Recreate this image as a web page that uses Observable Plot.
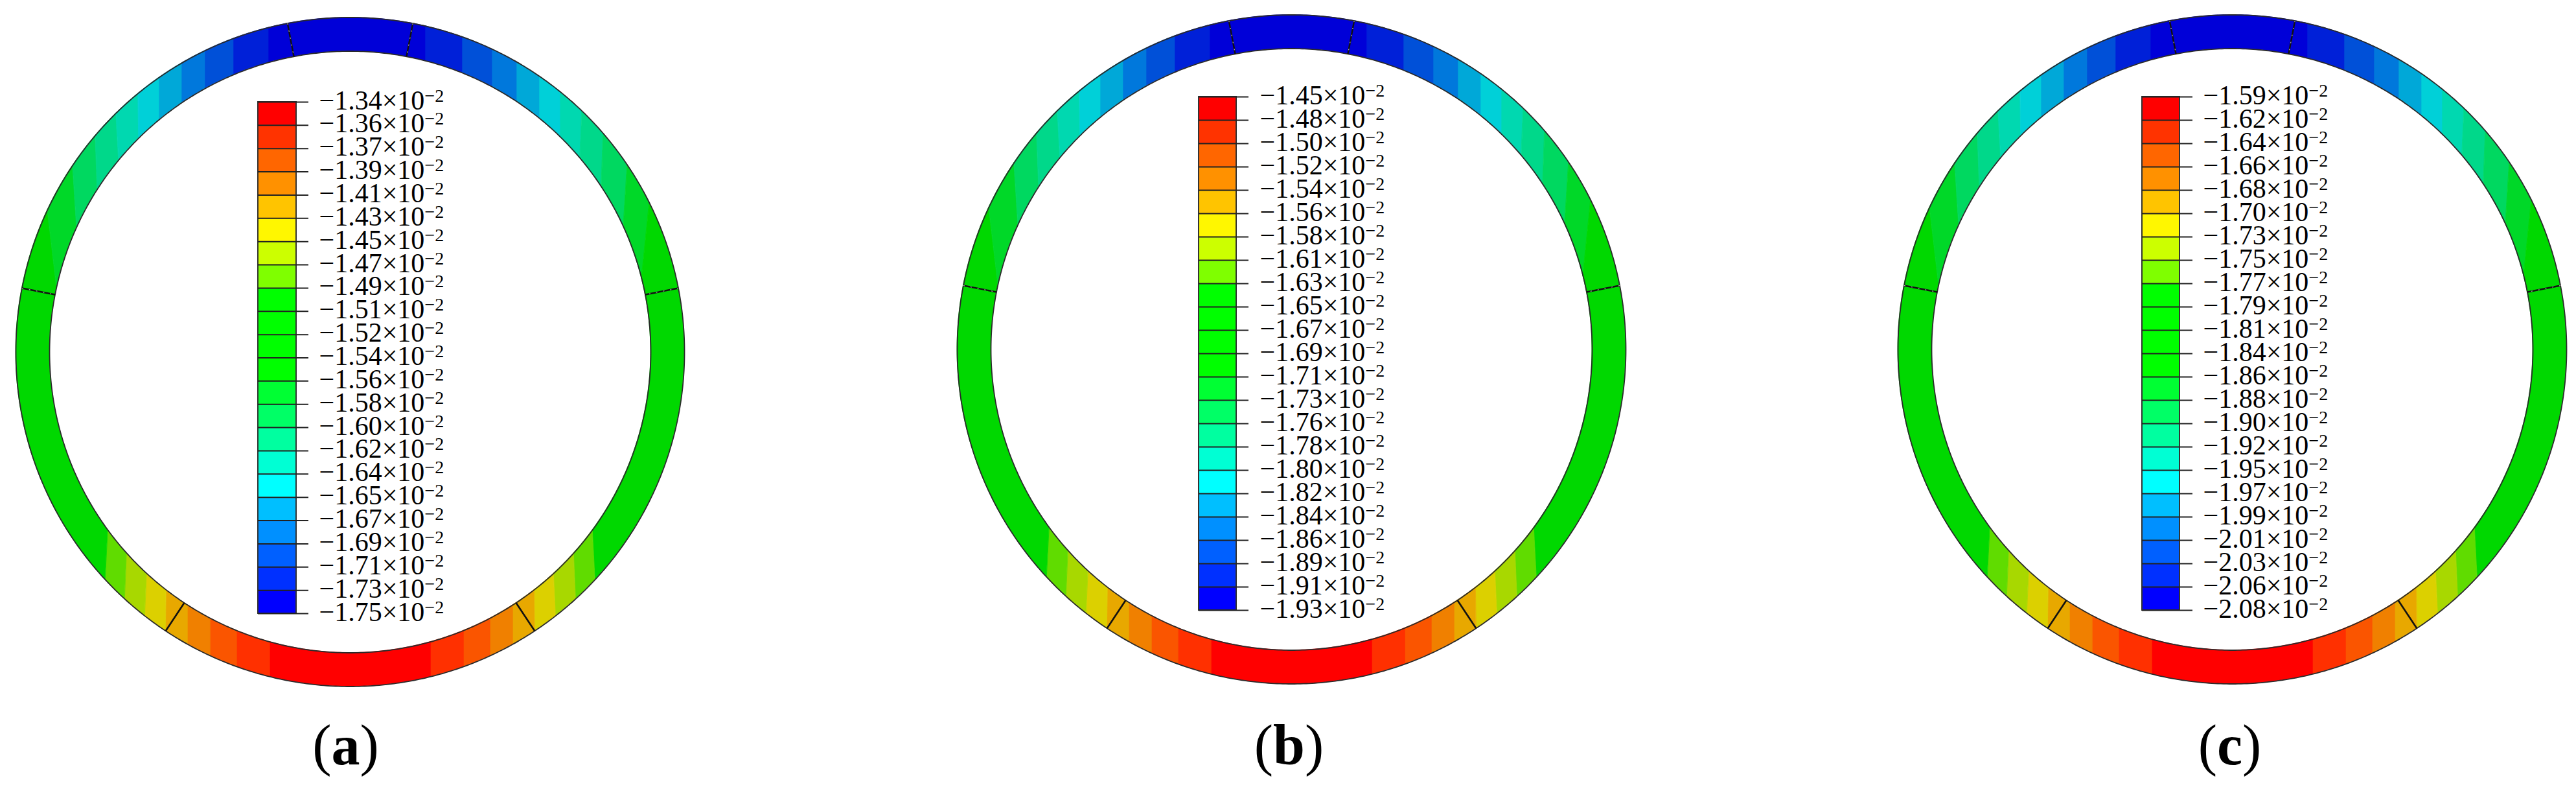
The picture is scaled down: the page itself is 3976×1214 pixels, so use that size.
<!DOCTYPE html>
<html>
<head>
<meta charset="utf-8">
<script src="https://cdn.jsdelivr.net/npm/d3@7"></script>
<script src="https://cdn.jsdelivr.net/npm/@observablehq/plot@0.6"></script>
<style>html,body{margin:0;padding:0;background:#fff}svg{display:block}</style>
</head>
<body>
<div id="chart"></div>
<script>
// Contour-legend tick labels (mantissa of ×10^-2)
const labelsA = ["1.34","1.36","1.37","1.39","1.41","1.43","1.45","1.47","1.49","1.51","1.52","1.54","1.56","1.58","1.60","1.62","1.64","1.65","1.67","1.69","1.71","1.73","1.75"];
const labelsB = ["1.45","1.48","1.50","1.52","1.54","1.56","1.58","1.61","1.63","1.65","1.67","1.69","1.71","1.73","1.76","1.78","1.80","1.82","1.84","1.86","1.89","1.91","1.93"];
const labelsC = ["1.59","1.62","1.64","1.66","1.68","1.70","1.73","1.75","1.77","1.79","1.81","1.84","1.86","1.88","1.90","1.92","1.95","1.97","1.99","2.01","2.03","2.06","2.08"];
// Legend band colours, top to bottom
const legendColors = ["#ff0000","#ff3300","#ff6600","#ff9100","#ffc400","#fff700","#ccff00","#7fff00","#00ff00","#00ff00","#00ff00","#00ff00","#00ff33","#00ff66","#00ffa0","#00ffd4","#00ffff","#00bfff","#0090ff","#0060ff","#0030ff","#0000ff"];
// Ring colours, walking away from the crown / invert
const crownColors = ["#0000d8","#0020d8","#0050d8","#0078dc","#00a8d8","#00d0d8","#00d8b0","#00d88a","#00d860","#00d828"];
const invertColors = ["#ff0000","#ff3000","#fa5500","#f08000","#e8a800","#dcd000","#a8d800","#60dc00"];
const sideColor = "#00d800";
// Contour positions: horizontal offset from the ring centre at [outer edge, inner edge]
const crownRight = [[117,117],[174,174],[220,220],[258,258],[293,293],[325,325],[358,355],[391,388],[428,422],[462,450]];
const crownLeft  = [[126,126],[179,179],[223,223],[259,259],[294,294],[327,326],[361,357],[393,390],[428,422],[467,453]];
const invertRight = [[124,124],[175,175],[216,216],[251,251],[285,284],[317,314],[348,345],[378,374]];
const invertLeft  = [[124,124],[175,175],[216,216],[251,251],[285,284],[317,314],[348,345],[378,374]];
// Joints between segments, degrees clockwise from the crown
const dashedJoints = [10.8, -10.8, 79, -79];
const solidJoints = [146.5, -146.5];
// Panels
const panels = [
  {name:"a", labels:labelsA, cx:540,  cy:542.5, capX:533,  legend:{left:398,  right:457,  tick:476,  text:492,  top:157, bottom:946}},
  {name:"b", labels:labelsB, cx:1993, cy:538.5, capX:1989, legend:{left:1850, right:1908, tick:1927, text:1944, top:149, bottom:941}},
  {name:"c", labels:labelsC, cx:3445, cy:538.5, capX:3441, legend:{left:3306, right:3364, tick:3384, text:3400, top:149, bottom:941}}
];
const R = 516, r = 464;

const rad = d => d * Math.PI / 180, deg = a => a * 180 / Math.PI;
const pt = (p, rho, t) => [p.cx + rho * Math.sin(rad(t)), p.cy - rho * Math.cos(rad(t))];
const ang = (off, rho) => deg(Math.asin(off / rho));

// Walk clockwise round the ring: each edge is an [outer angle, inner angle] pair
const edges = [
  ...crownRight.map(([o,i]) => [ang(o,R), ang(i,r)]),
  ...invertRight.slice().reverse().map(([o,i]) => [180-ang(o,R), 180-ang(i,r)]),
  ...invertLeft.map(([o,i]) => [180+ang(o,R), 180+ang(i,r)]),
  ...crownLeft.slice().reverse().map(([o,i]) => [360-ang(o,R), 360-ang(i,r)])
];
const colours = [
  ...crownColors, sideColor,
  ...invertColors.slice().reverse(),
  ...invertColors.slice(1), sideColor,
  ...crownColors.slice(1).reverse()
];

const ringCells = [], outlines = [], joints = [], legendCells = [], legendTicks = [], legendText = [], captions = [];
panels.forEach(p => {
  edges.forEach((e, k) => {
    const prev = k === 0 ? [edges[edges.length-1][0]-360, edges[edges.length-1][1]-360] : edges[k-1];
    const n = Math.max(2, Math.ceil(Math.abs(e[0]-prev[0]) * 2));
    for (let s = 0; s <= n; ++s) {
      const f = s / n;
      const [x1,y1] = pt(p, R, prev[0] + (e[0]-prev[0]) * f);
      const [x2,y2] = pt(p, r, prev[1] + (e[1]-prev[1]) * f);
      ringCells.push({id:p.name+k, x1, y1, x2, y2, colour:colours[k]});
    }
  });
  [R, r].forEach(rho => {
    for (let t = 0; t <= 720; ++t) {
      const [x,y] = pt(p, rho, t/2);
      outlines.push({id:p.name+rho, x, y});
    }
  });
  [[dashedJoints,"dashed"],[solidJoints,"solid"]].forEach(([list,kind]) => list.forEach(t => {
    const [x1,y1] = pt(p, R, t), [x2,y2] = pt(p, r, t);
    joints.push({x1,y1,x2,y2,kind});
  }));
  const L = p.legend, step = (L.bottom - L.top) / (p.labels.length - 1);
  legendColors.forEach((c,i) => legendCells.push({x1:L.left, x2:L.right, y1:L.top+i*step, y2:L.top+(i+1)*step, colour:c}));
  p.labels.forEach((m,i) => {
    legendTicks.push({x1:L.left, x2:L.tick, y:L.top+i*step});
    legendText.push({x:L.text, y:L.top+i*step, text:"\u2212"+m+"\u00d710\u22122"});
  });
  captions.push({x:p.capX, y:1178, text:"("+p.name+")"});
});

const expo = g => {
  d3.select(g).selectAll("text").each(function(){
    const s = this.textContent, head = s.slice(0, -2), tail = s.slice(-2);
    this.textContent = head;
    d3.select(this).append("tspan").attr("font-size", 28).attr("dy", -12).text(tail);
  });
  return g;
};
const boldMiddle = g => {
  d3.select(g).selectAll("text").each(function(){
    const s = this.textContent;
    this.textContent = "(";
    d3.select(this).append("tspan").attr("font-weight","bold").text(s.slice(1,-1));
    d3.select(this).append("tspan").text(")");
  });
  return g;
};

const chart = Plot.plot({
  width: 3976, height: 1214,
  marginTop: 0, marginRight: 0, marginBottom: 0, marginLeft: 0,
  x: {domain:[0,3976], range:[0,3976], axis:null},
  y: {domain:[0,1214], range:[0,1214], axis:null},
  color: {type:"identity"},
  style: {background:"#fff"},
  marks: [
    Plot.area(ringCells, {x1:"x1", y1:"y1", x2:"x2", y2:"y2", z:"id", fill:"colour", stroke:"colour", strokeWidth:0.8, curve:"linear"}),
    Plot.line(outlines, {x:"x", y:"y", z:"id", stroke:"#2a2a2a", strokeWidth:1.8, curve:"linear"}),
    Plot.link(joints.filter(d => d.kind==="solid"), {x1:"x1", y1:"y1", x2:"x2", y2:"y2", stroke:"#111", strokeWidth:2.6, curve:"linear"}),
    Plot.link(joints.filter(d => d.kind==="dashed"), {x1:"x1", y1:"y1", x2:"x2", y2:"y2", stroke:"#111", strokeWidth:2.4, curve:"linear"}),
    Plot.link(joints.filter(d => d.kind==="dashed"), {x1:"x1", y1:"y1", x2:"x2", y2:"y2", stroke:"#fff", strokeWidth:0.8, strokeDasharray:"2 9", curve:"linear"}),
    Plot.rect(legendCells, {x1:"x1", x2:"x2", y1:"y1", y2:"y2", fill:"colour"}),
    Plot.rect(panels.map(p => p.legend), {x1:"left", x2:"right", y1:"top", y2:"bottom", fill:null, stroke:"#333", strokeWidth:2}),
    Plot.ruleY(legendTicks, {x1:"x1", x2:"x2", y:"y", stroke:"#222", strokeWidth:2}),
    Plot.text(legendText, {x:"x", y:"y", text:"text", textAnchor:"start", lineAnchor:"bottom", dy:11, fontFamily:"Liberation Serif", fontSize:42, fill:"#000",
      render:(i,s,v,d,c,next) => expo(next(i,s,v,d,c))}),
    Plot.text(captions, {x:"x", y:"y", text:"text", textAnchor:"middle", lineAnchor:"bottom", fontFamily:"Liberation Serif", fontSize:88, fill:"#000",
      render:(i,s,v,d,c,next) => boldMiddle(next(i,s,v,d,c))})
  ]
});
document.getElementById("chart").append(chart);
</script>
</body>
</html>
